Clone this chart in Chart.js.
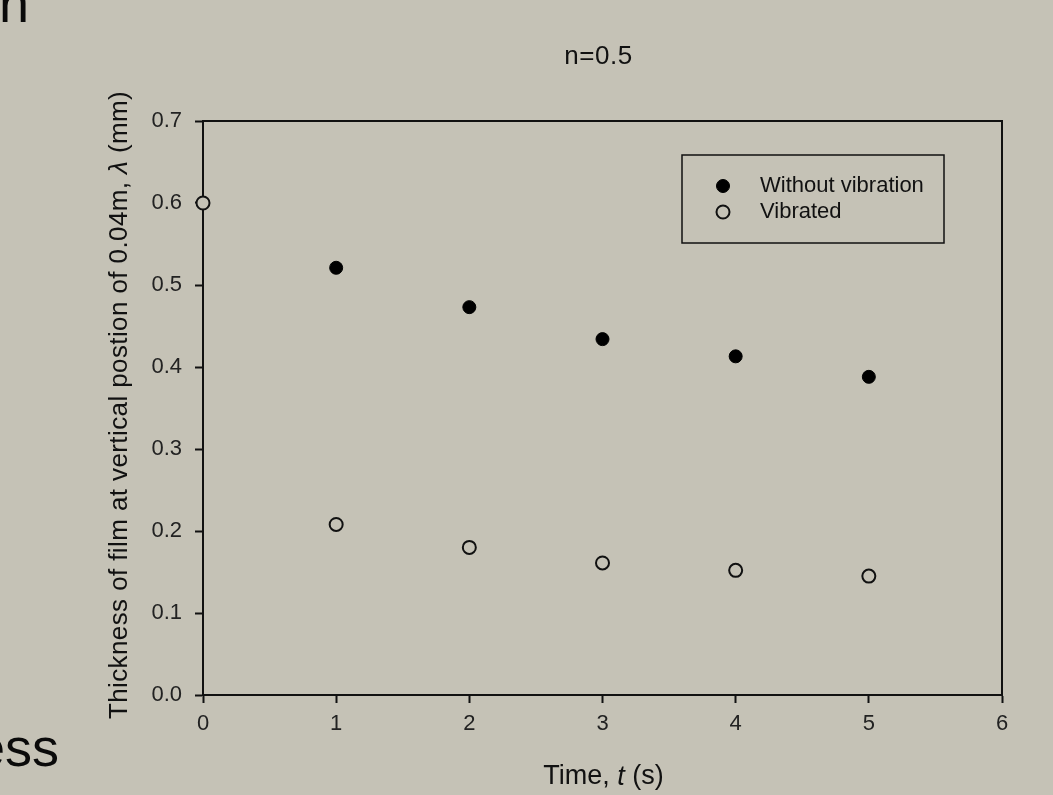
<!DOCTYPE html>
<html>
<head>
<meta charset="utf-8">
<script src="https://cdn.jsdelivr.net/npm/chart.js@4.4.1/dist/chart.umd.min.js"></script>
<style>
  body { margin: 0; background: #c5c2b6; overflow: hidden; }
  #wrap { position: relative; width: 1053px; height: 795px; }
  #chart { position: absolute; left: 0; top: 0; }
  .slide { position: absolute; font-family: "Liberation Sans", Arial, sans-serif; font-size: 54px; line-height: 54px; color: #0a0a0a; white-space: nowrap; }
</style>
</head>
<body>
<div id="wrap">
  <div class="slide" style="left:-1px; top:-24px;">n</div>
  <div class="slide" style="left:-25px; top:720px;">ess</div>
  <canvas id="chart" width="1053" height="795"></canvas>
</div>
<script>
const FONT = '"Liberation Sans", Arial, sans-serif';
const PAPER = '#c5c2b6';

// film thickness (mm) against time (s)
const timesWithout = [1, 2, 3, 4, 5];
const thicknessWithout = [0.521, 0.473, 0.434, 0.413, 0.388];
const timesVibrated = [0, 1, 2, 3, 4, 5];
const thicknessVibrated = [0.600, 0.208, 0.180, 0.161, 0.152, 0.145];
const seriesLabels = ['Without vibration', 'Vibrated'];

const chartTitle = 'n=0.5';
// [text, italic]
const xTitleRuns = [['Time, ', false], ['t', true], [' (s)', false]];
const yTitleRuns = [['Thickness of film at vertical postion of 0.04m, ', false], ['\u03bb', true], [' (mm)', false]];

function toPoints(xs, ys) {
    return xs.map((x, i) => ({x: x, y: ys[i]}));
}

/**
 * draws text runs centred on the current origin, switching to italic where asked
 */
function drawRuns(ctx, runs, size, spacing) {
    ctx.letterSpacing = (spacing || 0) + 'px';
    const fonts = runs.map(r => (r[1] ? 'italic ' : '') + size + 'px ' + FONT);
    const widths = runs.map((r, i) => {
        ctx.font = fonts[i];
        return ctx.measureText(r[0]).width;
    });
    let x = -widths.reduce((a, b) => a + b, 0) / 2;
    runs.forEach((r, i) => {
        ctx.font = fonts[i];
        ctx.fillText(r[0], x, 0);
        x += widths[i];
    });
    ctx.letterSpacing = '0px';
}

const captions = {
    id: 'captions',
    afterDraw(chart) {
        const ctx = chart.ctx;
        const ca = chart.chartArea;
        const cx = (ca.left + ca.right) / 2;
        ctx.save();
        ctx.fillStyle = '#111';
        ctx.textAlign = 'left';
        ctx.textBaseline = 'middle';

        ctx.save();
        ctx.translate(cx - 4, ca.top - 64);
        drawRuns(ctx, [[chartTitle, false]], 26, 0.5);
        ctx.restore();

        ctx.save();
        ctx.translate(cx + 1, ca.bottom + 82);
        drawRuns(ctx, xTitleRuns, 27);
        ctx.restore();

        ctx.save();
        ctx.translate(ca.left - 83, (ca.top + ca.bottom) / 2 - 3);
        ctx.rotate(-Math.PI / 2);
        drawRuns(ctx, yTitleRuns, 26, 0.4);
        ctx.restore();

        ctx.restore();
    }
};

// framed legend sitting in the upper right of the plot
const boxLegend = {
    id: 'boxLegend',
    afterDatasetsDraw(chart) {
        const ctx = chart.ctx;
        const ca = chart.chartArea;
        const left = ca.left + 479;
        const top = ca.top + 34;
        ctx.save();
        ctx.lineWidth = 1.5;
        ctx.strokeStyle = '#111';
        ctx.strokeRect(left, top, 262, 88);
        chart.data.datasets.forEach((ds, i) => {
            const y = top + 31 + i * 26;
            ctx.fillStyle = ds.pointBackgroundColor;
            ctx.strokeStyle = ds.pointBorderColor;
            ctx.lineWidth = ds.pointBorderWidth;
            Chart.helpers.drawPoint(ctx, {pointStyle: 'circle', radius: ds.pointRadius, borderWidth: ds.pointBorderWidth}, left + 41, y);
            ctx.fillStyle = '#111';
            ctx.font = '22px ' + FONT;
            ctx.textAlign = 'left';
            ctx.textBaseline = 'middle';
            ctx.fillText(ds.label, left + 78, y);
        });
        ctx.restore();
    }
};

new Chart(document.getElementById('chart'), {
    type: 'scatter',
    data: {
        datasets: [{
            label: seriesLabels[0],
            data: toPoints(timesWithout, thicknessWithout),
            pointStyle: 'circle',
            pointRadius: 6.5,
            pointBackgroundColor: '#000',
            pointBorderColor: '#000',
            pointBorderWidth: 1,
            clip: false
        }, {
            label: seriesLabels[1],
            data: toPoints(timesVibrated, thicknessVibrated),
            pointStyle: 'circle',
            pointRadius: 6.5,
            pointBackgroundColor: PAPER,
            pointBorderColor: '#111',
            pointBorderWidth: 2,
            clip: false
        }]
    },
    options: {
        responsive: false,
        animation: false,
        events: [],
        layout: {padding: {top: 121, right: 51, bottom: 0, left: 0}},
        plugins: {
            legend: {display: false},
            tooltip: {enabled: false}
        },
        scales: {
            x: {
                type: 'linear',
                position: 'bottom',
                min: 0,
                max: 6,
                ticks: {stepSize: 1, padding: 8, color: '#222', font: {family: FONT, size: 22}},
                grid: {drawOnChartArea: false, tickLength: 8, tickColor: '#111', tickWidth: 2},
                border: {color: '#111', width: 2},
                afterFit(scale) { scale.height = 100; }
            },
            y: {
                type: 'linear',
                position: 'left',
                min: 0,
                max: 0.7,
                ticks: {
                    stepSize: 0.1,
                    padding: 13,
                    color: '#222',
                    font: {family: FONT, size: 22},
                    callback: v => v.toFixed(1)
                },
                grid: {drawOnChartArea: false, tickLength: 8, tickColor: '#111', tickWidth: 2},
                border: {color: '#111', width: 2},
                afterFit(scale) { scale.width = 203; }
            },
            x2: {
                type: 'linear',
                axis: 'x',
                position: 'top',
                min: 0,
                max: 6,
                ticks: {display: false},
                grid: {drawOnChartArea: false, drawTicks: false},
                border: {color: '#111', width: 2},
                afterFit(scale) { scale.height = 0; }
            },
            y2: {
                type: 'linear',
                axis: 'y',
                position: 'right',
                min: 0,
                max: 0.7,
                ticks: {display: false},
                grid: {drawOnChartArea: false, drawTicks: false},
                border: {color: '#111', width: 2},
                afterFit(scale) { scale.width = 0; }
            }
        }
    },
    plugins: [captions, boxLegend]
});
</script>
</body>
</html>
